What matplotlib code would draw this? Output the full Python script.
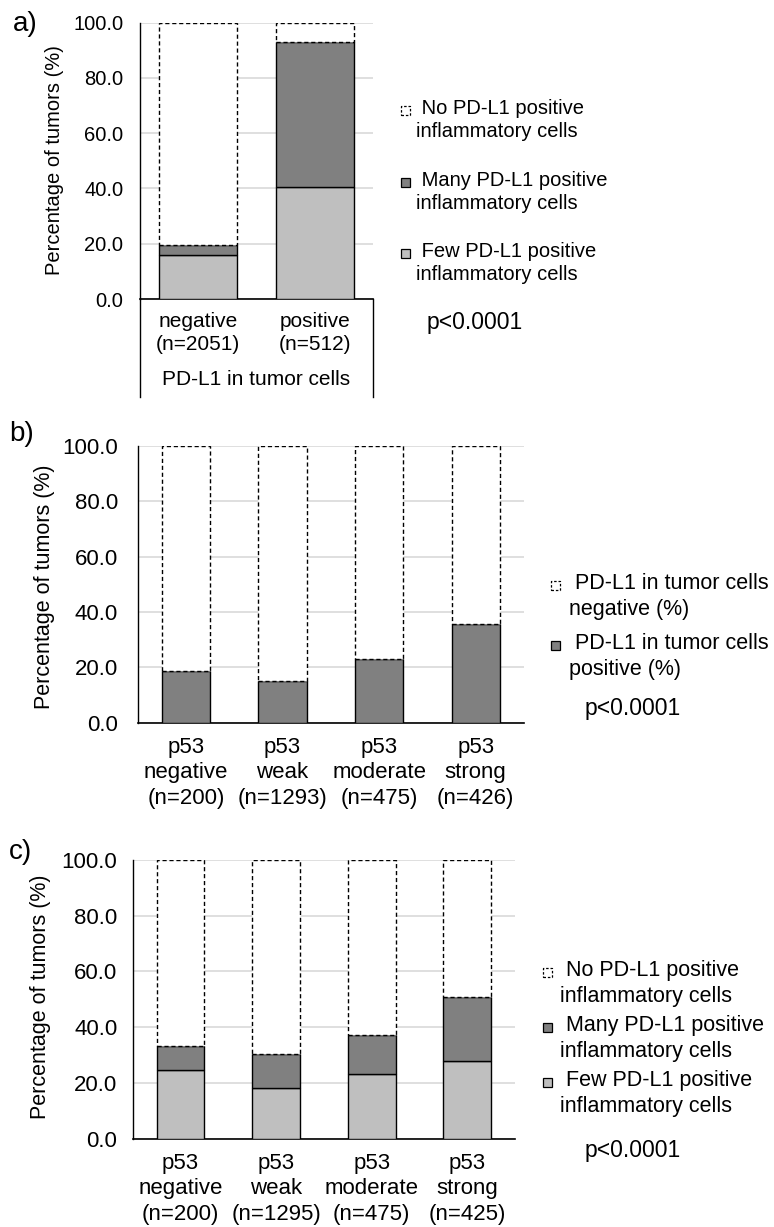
import matplotlib
matplotlib.use('Agg')
import matplotlib.pyplot as plt
from matplotlib.patches import Rectangle
import numpy as np

plt.rcParams['font.family'] = ['Liberation Sans', 'DejaVu Sans']

W, H = 774, 1227

# ---- data ----
a_cats = ["negative\n(n=2051)", "positive\n(n=512)"]
a_few = [15.9, 40.6]
a_many = [3.6, 52.4]

b_cats = ["p53\nnegative\n(n=200)", "p53\nweak\n(n=1293)", "p53\nmoderate\n(n=475)", "p53\nstrong\n(n=426)"]
b_pos = [18.8, 15.1, 23.1, 35.8]

c_cats = ["p53\nnegative\n(n=200)", "p53\nweak\n(n=1295)", "p53\nmoderate\n(n=475)", "p53\nstrong\n(n=425)"]
c_few = [24.6, 18.2, 23.1, 28.0]
c_many = [8.7, 12.2, 14.2, 23.0]

FEW = "#bfbfbf"
MANY = "#808080"
GRID = "#d9d9d9"


def px_axes(fig, left, right, top, bottom):
    return fig.add_axes([left / W, 1 - bottom / H, (right - left) / W, (bottom - top) / H])


def style_axes(ax, ypad, fs):
    ax.set_ylim(0, 100)
    ax.set_yticks(np.arange(0, 101, 20))
    ax.set_yticklabels([f"{v:.1f}" for v in np.arange(0, 101, 20)], fontsize=fs)
    ax.yaxis.grid(True, color=GRID, linewidth=1.2)
    ax.set_axisbelow(True)
    for s in ["top", "right"]:
        ax.spines[s].set_visible(False)
    ax.spines["left"].set_linewidth(1.0)
    ax.spines["bottom"].set_linewidth(1.2)
    ax.tick_params(axis="both", length=0)
    ax.tick_params(axis="y", pad=ypad)


def stacked(ax, x, layers, colors, width):
    bottom = np.zeros(len(x))
    for vals, col in zip(layers, colors):
        ax.bar(x, vals, width, bottom=bottom, color=col, edgecolor="black", linewidth=1.0, zorder=3)
        bottom += np.array(vals)
    rest = 100 - bottom
    ax.bar(x, rest, width, bottom=bottom, color="white", edgecolor="black", linewidth=1.0,
           linestyle=(0, (3, 2)), zorder=3)


def legend(fig, x_mark, x_text, entries, fs):
    em = fs * 100 / 72
    for y, face, dashed, label in entries:
        r = Rectangle(((x_mark - 4.5) / W, 1 - (y + 4.5) / H), 9 / W, 9 / H,
                      transform=fig.transFigure, facecolor=face, edgecolor="black",
                      linewidth=0.9, linestyle=(0, (2, 1.5)) if dashed else "-")
        fig.patches.append(r)
        fig.text(x_text / W, 1 - (y - 0.55 * em) / H, label, fontsize=fs, ha="left", va="top",
                 linespacing=1.3)


def ylab(fig, x, y, fs):
    fig.text(x / W, 1 - y / H, "Percentage of tumors (%)", rotation=90, fontsize=fs,
             ha="center", va="center")


fig = plt.figure(figsize=(W / 100, H / 100), dpi=100)

# ===== a) =====
ax = px_axes(fig, 140, 373, 22.7, 299)
x = np.arange(len(a_cats))
stacked(ax, x, [a_few, a_many], [FEW, MANY], 0.67)
ax.set_xlim(-0.5, 1.5)
style_axes(ax, 12, 14.5)
ax.set_xticks(x)
ax.set_xticklabels(a_cats, fontsize=15, linespacing=1.3)
ax.tick_params(axis="x", pad=9)
ax.text(0.5, -0.29, "PD-L1 in tumor cells", transform=ax.transAxes, ha="center", va="center", fontsize=15)
for xx in (0, 1):
    ax.plot([xx, xx], [0, -0.355], transform=ax.transAxes, color="black", linewidth=1.0, clip_on=False)
fig.text(13 / W, 1 - 24 / H, "a)", fontsize=20, ha="left", va="center")
ylab(fig, 55, 160, 14.5)
legend(fig, 405, 416, [
    (110, "white", True, " No PD-L1 positive\ninflammatory cells"),
    (182, MANY, False, " Many PD-L1 positive\ninflammatory cells"),
    (253, FEW, False, " Few PD-L1 positive\ninflammatory cells"),
], 14.5)
fig.text(427 / W, 1 - 323 / H, "p<0.0001", fontsize=16.5, ha="left", va="center")

# ===== b) =====
ax = px_axes(fig, 137.6, 524, 446, 722.7)
x = np.arange(len(b_cats))
stacked(ax, x, [b_pos], [MANY], 0.5)
ax.set_xlim(-0.5, 3.5)
style_axes(ax, 14, 16)
ax.set_xticks(x)
ax.set_xticklabels(b_cats, fontsize=16, linespacing=1.3)
ax.tick_params(axis="x", pad=10)
fig.text(9 / W, 1 - 434 / H, "b)", fontsize=20, ha="left", va="center")
ylab(fig, 45, 587, 15.5)
legend(fig, 555, 569, [
    (585, "white", True, " PD-L1 in tumor cells\nnegative (%)"),
    (645, MANY, False, " PD-L1 in tumor cells\npositive (%)"),
], 15.5)
fig.text(585 / W, 1 - 708 / H, "p<0.0001", fontsize=16.5, ha="left", va="center")

# ===== c) =====
ax = px_axes(fig, 132.7, 515, 860, 1138.7)
x = np.arange(len(c_cats))
stacked(ax, x, [c_few, c_many], [FEW, MANY], 0.5)
ax.set_xlim(-0.5, 3.5)
style_axes(ax, 11, 16)
ax.set_xticks(x)
ax.set_xticklabels(c_cats, fontsize=16, linespacing=1.3)
ax.tick_params(axis="x", pad=10)
fig.text(9 / W, 1 - 852 / H, "c)", fontsize=20, ha="left", va="center")
ylab(fig, 41, 997, 15.5)
legend(fig, 547, 560, [
    (972, "white", True, " No PD-L1 positive\ninflammatory cells"),
    (1027, MANY, False, " Many PD-L1 positive\ninflammatory cells"),
    (1082, FEW, False, " Few PD-L1 positive\ninflammatory cells"),
], 15.5)
fig.text(585 / W, 1 - 1150 / H, "p<0.0001", fontsize=16.5, ha="left", va="center")

fig.savefig("out.png", dpi=100)
